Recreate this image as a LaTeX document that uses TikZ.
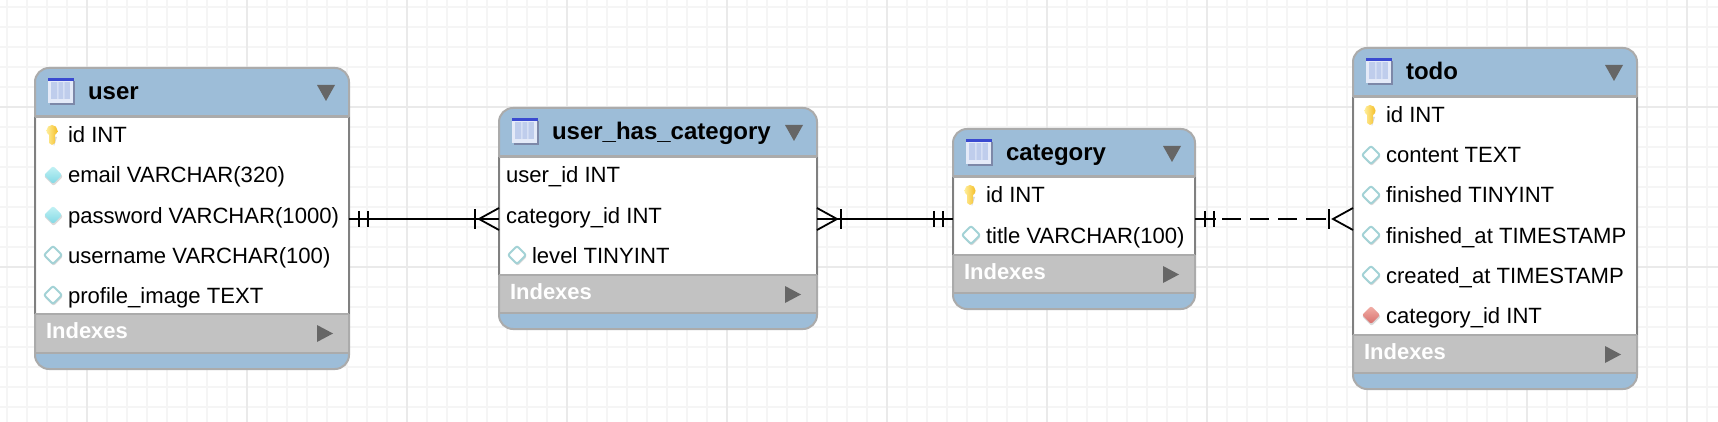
\documentclass[tikz,border=0pt]{standalone}
\usepackage{fontspec}
\setmainfont{Liberation Sans}
\usetikzlibrary{calc}
\definecolor{hdr}{HTML}{9DBDD8}
\definecolor{edge}{HTML}{ABABAB}
\definecolor{sideedge}{HTML}{808080}
\definecolor{band}{HTML}{C2C2C2}
\definecolor{tri}{HTML}{666666}
\definecolor{gridminor}{HTML}{F5F5F5}
\definecolor{gridmajor}{HTML}{EAEAEA}
\definecolor{diamedge}{HTML}{A3D2D6}
\definecolor{reqtop}{HTML}{C4F2F5}
\definecolor{reqbot}{HTML}{80D8E4}
\definecolor{fktop}{HTML}{F2B0A8}
\definecolor{fkbot}{HTML}{D86F6C}
\definecolor{icontop}{HTML}{3A4AD0}
\definecolor{iconshadow}{HTML}{7D88A8}
\definecolor{iconlight}{HTML}{E4EAF8}
\definecolor{iconmid}{HTML}{BFCDEC}
\definecolor{iconcol}{HTML}{D5DFF4}
\definecolor{keylight}{HTML}{FFEE9A}
\definecolor{keydark}{HTML}{F4BE28}
\tikzset{
  x=1pt,y=-1pt,
  gridthin/.style={gridminor,line width=1.5pt},
  gridbold/.style={gridmajor,line width=1.5pt},
  tablebox/.style={rectangle,inner sep=0pt,outer sep=0pt,fill=hdr},
  tableoutline/.style={draw=edge,line width=2pt,rounded corners=14pt},
  rowtext/.style={anchor=base west,inner sep=0pt,outer sep=0pt,text=black,font=\fontsize{22.1}{24}\selectfont},
  titletext/.style={anchor=base west,inner sep=0pt,outer sep=0pt,text=black,font=\fontsize{24}{26}\selectfont\bfseries},
  indextext/.style={anchor=base west,inner sep=0pt,outer sep=0pt,text=white,font=\fontsize{22}{24}\selectfont\bfseries},
  relline/.style={black,line width=1.8pt},
  diamnull/.style={draw=diamedge,fill=white,line width=2pt},
  diamreq/.style={draw=none,top color=reqtop,bottom color=reqbot},
  diamfk/.style={draw=none,top color=fktop,bottom color=fkbot},
}
% table frame: name, x1, x2, top, header bottom, band top, band bottom, bottom, title
\newcommand\tbl[9]{%
  \pgfmathsetmacro\cx{(#2+#3)/2}\pgfmathsetmacro\cy{(#4+#8)/2}%
  \pgfmathsetmacro\bw{#3-#2}\pgfmathsetmacro\bh{#8-#4}%
  \node[tablebox,rounded corners=14pt,minimum width=\bw pt,minimum height=\bh pt] (#1) at (\cx,\cy) {};
  \fill[white] (#2,#5) rectangle (#3,#6);
  \fill[band] (#2,#6) rectangle (#3,#7);
  \draw[tableoutline] (#1.north west) rectangle (#1.south east);
  \draw[sideedge,line width=2pt] (#2,#5) -- (#2,#6) (#3,#5) -- (#3,#6);
  \draw[edge,line width=3pt] (#2,#5) -- (#3,#5);
  \draw[edge,line width=2pt] (#2,#6) -- (#3,#6);
  \draw[edge,line width=1.5pt] (#2,#7) -- (#3,#7);
  \tblicon{#2+13}{#4+10}
  \node[titletext] (#1title) at (#2+53,#4+32) {#9};
  \fill[tri] (#3-32,#4+17) -- (#3-14,#4+17) -- (#3-23,#4+33) -- cycle;
  \node[indextext] (#1idx) at (#2+11,#6+24) {Indexes};
  \fill[tri] (#3-32,#6+11) -- (#3-16,#6+19.5) -- (#3-32,#6+28) -- cycle;
}
\newcommand\tblicon[2]{%
  \begin{scope}[shift={(#1,#2)}]
    \fill[iconshadow] (2,3) rectangle (27,27);
    \fill[iconlight] (0,1) rectangle (25,25);
    \fill[iconmid] (3,4) rectangle (22,21);
    \fill[iconcol] (9,4) rectangle (10.5,21) (15,4) rectangle (16.5,21);
    \fill[icontop] (0,0) rectangle (26,3);
  \end{scope}}
\newcommand\keyicon[2]{%
  \begin{scope}[shift={(#1,#2)}]
    \fill[black,opacity=.15] (-1,2) -- (2,11) -- (5,2) -- cycle;
    \shade[left color=keylight,right color=keydark] (-5.5,-4.5) arc[start angle=180,end angle=360,x radius=5.5,y radius=5.5] -- (5,-2) -- (3,0) -- (3,8) -- (0,10) -- (-3,8) -- (-3,0) -- (-5,-2) -- cycle;
  \end{scope}}
\newcommand\diam[3]{%
  \begin{scope}[shift={(#1,#2)}]
    \fill[black,opacity=.15,rounded corners=2pt] (-9,1.5) -- (0.5,-8) -- (10,1.5) -- (0.5,11) -- cycle;
    \path[#3,rounded corners=2pt] (-9,0) -- (0,-9) -- (9,0) -- (0,9) -- cycle;
  \end{scope}}
% row: table, node id, x1, row centre, icon kind (k n r f x), text
\newcommand\rowitem[6]{%
  \ifx#5k\keyicon{#3+17}{#4}\node[rowtext] (#1#2) at (#3+33,#4+8) {#6};\fi
  \ifx#5n\diam{#3+18}{#4}{diamnull}\node[rowtext] (#1#2) at (#3+33,#4+8) {#6};\fi
  \ifx#5r\diam{#3+18}{#4}{diamreq}\node[rowtext] (#1#2) at (#3+33,#4+8) {#6};\fi
  \ifx#5f\diam{#3+18}{#4}{diamfk}\node[rowtext] (#1#2) at (#3+33,#4+8) {#6};\fi
  \ifx#5x\node[rowtext] (#1#2) at (#3+7,#4+8) {#6};\fi
}
% #1 point on the table edge, #2 direction away from the table
\newcommand\crowfoot[2]{%
  \draw[relline] ($(#1)+(0,-11)$) -- ($(#1)+(#2*20,0)$) -- ($(#1)+(0,11)$);
  \draw[relline] ($(#1)+(#2*24,-9.5)$) -- ($(#1)+(#2*24,9.5)$);}
\newcommand\onebar[2]{%
  \draw[relline] ($(#1)+(#2*10,-8)$) -- ($(#1)+(#2*10,8)$);
  \draw[relline] ($(#1)+(#2*19,-8)$) -- ($(#1)+(#2*19,8)$);}
\begin{document}
\begin{tikzpicture}
\useasboundingbox (0,0) rectangle (1718,422);
\fill[white] (0,0) rectangle (1718,422);
\foreach \gx in {7,27,...,1707} \draw[gridthin] (\gx,0) -- (\gx,422);
\foreach \gy in {7,27,...,407} \draw[gridthin] (0,\gy) -- (1718,\gy);
\foreach \gx in {87,247,...,1687} \draw[gridbold] (\gx,0) -- (\gx,422);
\foreach \gy in {107,267} \draw[gridbold] (0,\gy) -- (1718,\gy);

\tbl{user}{35}{349}{68}{117}{314}{353}{369}{user}
\rowitem{user}{a}{35}{135}{k}{id INT}
\rowitem{user}{b}{35}{175}{r}{email VARCHAR(320)}
\rowitem{user}{c}{35}{215}{r}{password VARCHAR(1000)}
\rowitem{user}{d}{35}{255}{n}{username VARCHAR(100)}
\rowitem{user}{e}{35}{295}{n}{profile\_image TEXT}

\tbl{uhc}{499}{817}{108}{157}{275}{313}{329}{user\_has\_category}
\rowitem{uhc}{a}{499}{175}{x}{user\_id INT}
\rowitem{uhc}{b}{499}{215}{x}{category\_id INT}
\rowitem{uhc}{c}{499}{255}{n}{level TINYINT}

\tbl{cat}{953}{1195}{129}{177}{255}{293}{309}{category}
\rowitem{cat}{a}{953}{195}{k}{id INT}
\rowitem{cat}{b}{953}{235}{n}{title VARCHAR(100)}

\tbl{todo}{1353}{1637}{48}{97}{335}{373}{389}{todo}
\rowitem{todo}{a}{1353}{115}{k}{id INT}
\rowitem{todo}{b}{1353}{155}{n}{content TEXT}
\rowitem{todo}{c}{1353}{195}{n}{finished TINYINT}
\rowitem{todo}{d}{1353}{235}{n}{finished\_at TIMESTAMP}
\rowitem{todo}{e}{1353}{275}{n}{created\_at TIMESTAMP}
\rowitem{todo}{f}{1353}{315}{f}{category\_id INT}

\coordinate (relrow) at (0,219);
\coordinate (ra) at (user.east |- relrow);
\coordinate (rb) at (uhc.west |- relrow);
\coordinate (rc) at (uhc.east |- relrow);
\coordinate (rd) at (cat.west |- relrow);
\coordinate (re) at (cat.east |- relrow);
\coordinate (rf) at (todo.west |- relrow);
\draw[relline] (ra) -- (rb);
\onebar{ra}{1}
\crowfoot{rb}{-1}
\draw[relline] (rc) -- (rd);
\crowfoot{rc}{1}
\onebar{rd}{-1}
\draw[relline,dash pattern=on 21pt off 6pt on 19pt off 9pt on 19pt off 9pt on 19pt off 9pt on 20pt off 40pt] (re) -- (rf);
\onebar{re}{1}
\crowfoot{rf}{-1}
\end{tikzpicture}
\end{document}
